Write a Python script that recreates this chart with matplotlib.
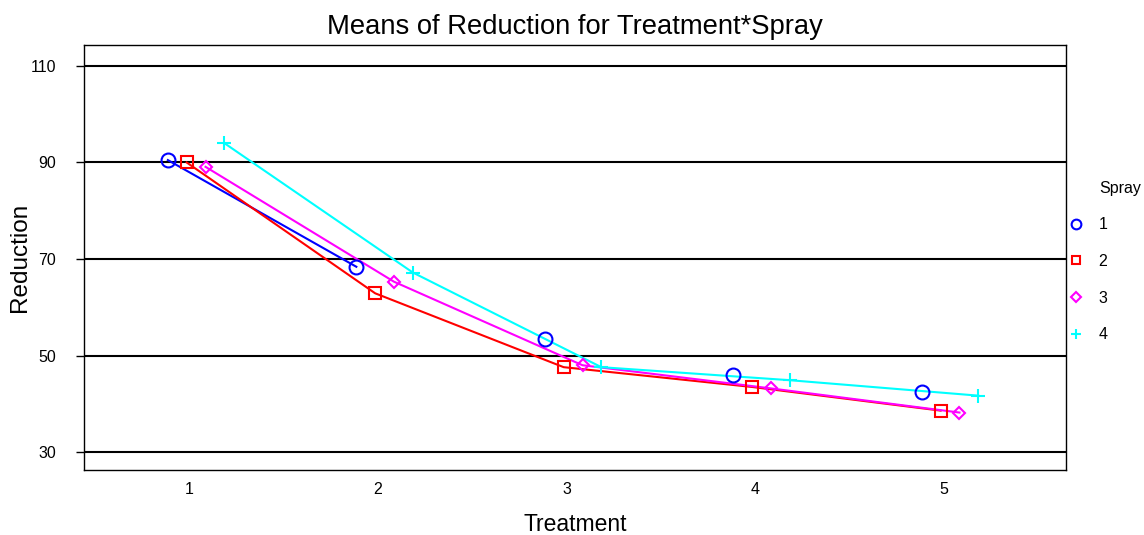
import matplotlib

matplotlib.use("Agg")
import matplotlib.pyplot as plt
from matplotlib.lines import Line2D

plt.rcParams["font.family"] = ["Liberation Sans", "DejaVu Sans"]

# valores
treatments = [1, 2, 3, 4, 5]
sprays = ["1", "2", "3", "4"]
spray1 = [90.5, 68.4, 53.4, 46.0, 42.4]
spray2 = [90.0, 62.9, 47.6, 43.5, 38.6]
spray3 = [89.1, 65.3, 48.0, 43.2, 38.2]
spray4 = [94.0, 67.2, 47.6, 44.9, 41.7]
yticks = [30, 50, 70, 90, 110]

series = [spray1, spray2, spray3, spray4]
colors = ["#0000ff", "#ff0000", "#ff00ff", "#00ffff"]
markers = ["o", "s", "D", "+"]
msizes = [10, 9, 6, 10]
leg_sizes = [7, 6, 5, 7.5]
offsets = [-0.115, -0.015, 0.085, 0.185]
# en el original la línea del Spray 1 solo se ve entre los dos primeros tratamientos
line_pts = [2, 5, 5, 5]

fig = plt.figure(figsize=(11.44, 5.35), dpi=100)
ax = fig.add_axes([0.0734, 0.1215, 0.8584, 0.7945])

for yt in yticks:
    ax.axhline(yt, color="black", lw=1.5, zorder=1)

handles = []
for vals, c, m, ms, lms, off, n, name in zip(series, colors, markers, msizes,
                                             leg_sizes, offsets, line_pts, sprays):
    xs = [t + off for t in treatments]
    ax.plot(xs[:n], vals[:n], color=c, lw=1.5, zorder=2)
    ax.plot(xs, vals, ls="none", marker=m, ms=ms, mfc="none", mec=c,
            mew=1.5, zorder=3)
    handles.append(Line2D([], [], ls="none", marker=m, ms=lms, mfc="none",
                          mec=c, mew=1.5, label=name))

ax.set_xlim(0.44, 5.65)
ax.set_ylim(26.3, 114.35)
ax.set_xticks(treatments)
ax.set_xticklabels([str(t) for t in treatments])
ax.set_yticks(yticks)
ax.tick_params(axis="x", length=0, pad=8.5, labelsize=11.5)
ax.tick_params(axis="y", length=6, width=1, direction="out", pad=14, labelsize=11.5)
for sp in ax.spines.values():
    sp.set_linewidth(1)

ax.set_xlabel("Treatment", fontsize=16.5, labelpad=12)
ax.set_ylabel("Reduction", fontsize=17.5, labelpad=0)
ax.set_title("Means of Reduction for Treatment*Spray", fontsize=19.7, pad=8)

fig.legend(handles=handles, loc="upper left", bbox_to_anchor=(0.9266, 0.609),
           frameon=False, fontsize=11.5, borderpad=0, labelspacing=1.36,
           handlelength=1.0, handletextpad=0.9)
fig.text(1099 / 1144, 1 - 188 / 535, "Spray", fontsize=11.5, ha="left", va="center")

fig.savefig("out.png", dpi=100)
